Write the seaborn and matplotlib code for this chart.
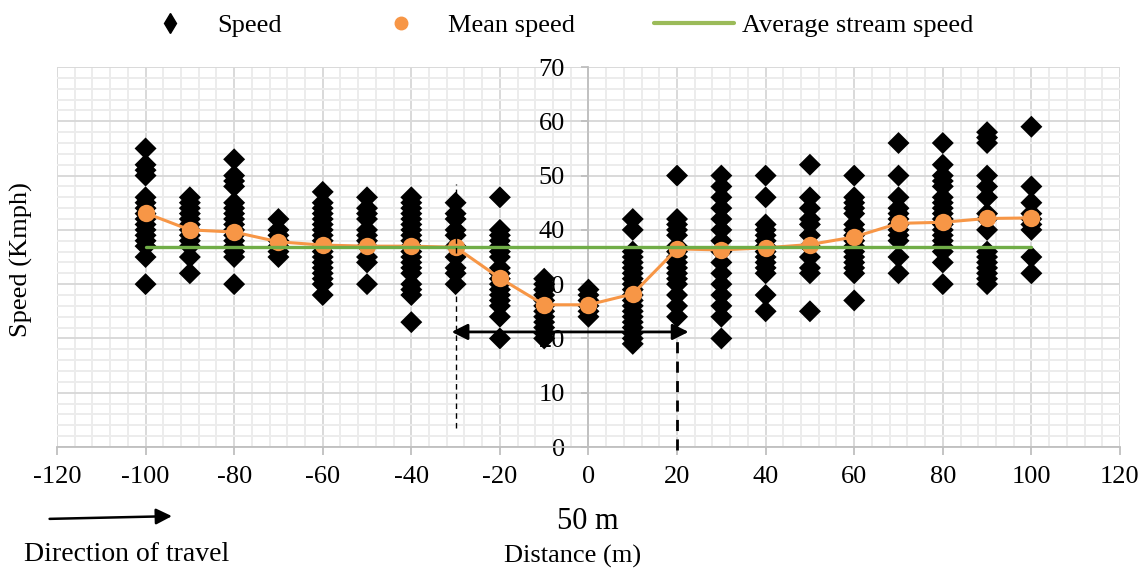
import numpy as np
import pandas as pd
import matplotlib
matplotlib.use("Agg")
import matplotlib.pyplot as plt
import seaborn as sns
from matplotlib.lines import Line2D
from matplotlib.ticker import MultipleLocator

# Data
distances = [-100, -90, -80, -70, -60, -50, -40, -30, -20, -10, 0,
             10, 20, 30, 40, 50, 60, 70, 80, 90, 100]

speed_obs = [
    [55, 52, 51, 50, 46, 45, 44, 43, 42, 41, 40, 39, 38, 37, 35, 30],
    [46, 45, 44, 43, 42, 41, 40, 39, 38, 37, 35, 32],
    [53, 50, 49, 48, 45, 44, 43, 42, 41, 40, 39, 38, 37, 36, 35, 30],
    [42, 40, 39, 38, 37, 36, 35],
    [47, 45, 44, 43, 42, 41, 40, 39, 38, 37, 36, 35, 34, 33, 32, 31, 30, 28],
    [46, 44, 43, 42, 40, 39, 38, 37, 35, 34, 30],
    [46, 45, 44, 43, 42, 41, 40, 39, 38, 37, 36, 35, 34, 33, 32, 30, 29, 28, 23],
    [45, 43, 42, 40, 39, 37, 35, 33, 32, 30],
    [46, 40, 39, 38, 37, 36, 35, 33, 32, 31, 30, 29, 28, 27, 26, 24, 20],
    [31, 30, 29, 28, 27, 26, 25, 24, 23, 22, 21, 20],
    [29, 28, 27, 26, 25, 24],
    [42, 40, 36, 35, 34, 33, 32, 31, 30, 29, 28, 27, 26, 25, 24, 23, 22, 21, 20, 19],
    [50, 42, 41, 40, 39, 37, 36, 35, 34, 33, 32, 31, 30, 28, 26, 24],
    [50, 48, 46, 44, 42, 40, 38, 36, 34, 32, 30, 28, 26, 24, 20],
    [50, 46, 41, 40, 39, 38, 37, 36, 35, 34, 33, 32, 28, 25],
    [52, 46, 44, 42, 41, 39, 37, 35, 33, 32, 25],
    [50, 46, 45, 44, 43, 41, 40, 39, 38, 37, 36, 35, 34, 33, 32, 27],
    [56, 50, 46, 44, 43, 42, 41, 40, 39, 38, 35, 32],
    [56, 52, 50, 49, 48, 46, 45, 44, 43, 42, 41, 40, 39, 38, 37, 36, 34, 30],
    [58, 57, 56, 50, 48, 46, 43, 42, 40, 36, 35, 34, 33, 32, 31, 30],
    [59, 48, 45, 43, 42, 41, 40, 35, 32],
]

mean_speed = [43.1, 40.0, 39.6, 37.8, 37.2, 37.0, 37.0, 36.8, 31.1, 26.2, 26.2,
              28.2, 36.5, 36.3, 36.7, 37.3, 38.7, 41.2, 41.4, 42.1, 42.2]

stream_speed = 36.8

# work zone markers
zone_start = -30
zone_end = 20

rows = [(d, s) for d, col in zip(distances, speed_obs) for s in col]
df = pd.DataFrame(rows, columns=["distance", "speed"])
mean_df = pd.DataFrame({"distance": distances, "mean_speed": mean_speed})
stream_df = pd.DataFrame({"distance": distances, "stream": [stream_speed] * len(distances)})

sns.set_theme(style="white")
plt.rcParams["font.family"] = ["Liberation Serif", "DejaVu Serif"]
plt.rcParams["axes.unicode_minus"] = False
plt.rcParams["text.color"] = "black"
plt.rcParams["xtick.color"] = "black"
plt.rcParams["ytick.color"] = "black"

fig = plt.figure(figsize=(11.42, 5.69), dpi=100)
ax = fig.add_axes([0.0499, 0.2144, 0.9308, 0.6678])

sns.scatterplot(data=df, x="distance", y="speed", marker="D", s=125,
                color="black", edgecolor="none", linewidth=0, ax=ax,
                zorder=3, legend=False)
sns.lineplot(data=mean_df, x="distance", y="mean_speed", color="#F79646",
             lw=2.2, marker="o", markersize=12.5, markeredgewidth=0, ax=ax,
             zorder=4)
sns.lineplot(data=stream_df, x="distance", y="stream", color="#70AD47",
             lw=2.4, ax=ax, zorder=5)

ax.set_xlim(-120, 120)
ax.set_ylim(0, 70)
ax.set_xticks(range(-120, 121, 20))
ax.set_yticks(range(0, 71, 10))
ax.xaxis.set_minor_locator(MultipleLocator(4))
ax.yaxis.set_minor_locator(MultipleLocator(2))
ax.grid(which="minor", color="#ececec", lw=1.4)
ax.grid(which="major", color="#d9d9d9", lw=1.4)
ax.set_axisbelow(True)

ax.spines["left"].set_position(("data", 0))
ax.spines["top"].set_visible(False)
ax.spines["right"].set_visible(False)
for side in ["left", "bottom"]:
    ax.spines[side].set_color("#bfbfbf")
    ax.spines[side].set_linewidth(1.3)

ax.tick_params(axis="x", which="major", bottom=True, length=6, width=1.3,
               color="#bfbfbf", labelcolor="black", labelsize=19, pad=8)
ax.tick_params(axis="y", which="major", left=True, length=5, width=1.3,
               color="#bfbfbf", labelcolor="black", labelsize=19, pad=12)
ax.tick_params(which="minor", length=0)
ax.set_xlabel("")
ax.set_ylabel("")

# dashed zone boundaries and the 50 m span
ax.plot([zone_start, zone_start], [3.5, 48.5], ls=(0, (4, 3)), color="black",
        lw=1, zorder=6)
ax.plot([zone_end, zone_end], [-0.6, 21.2], ls=(0, (4, 3)), color="black",
        lw=2, zorder=6, clip_on=False)
ax.annotate("", xy=(-30.9, 21.2), xytext=(22.6, 21.2),
            arrowprops=dict(arrowstyle="<|-|>", color="black", lw=2,
                            mutation_scale=24, shrinkA=0, shrinkB=0),
            zorder=7)

fig.text(0.515, 0.084, "50 m", ha="center", va="center", fontsize=22)
fig.text(0.501, 0.022, "Distance (m)", ha="center", va="center", fontsize=19)
fig.text(0.019, 0.543, "Speed (Kmph)", ha="center", va="center",
         rotation=90, fontsize=19)
fig.text(0.111, 0.025, "Direction of travel", ha="center", va="center",
         fontsize=20)
fig.add_artist(matplotlib.patches.FancyArrowPatch(
    (0.041, 0.088), (0.153, 0.093), transform=fig.transFigure,
    arrowstyle="-|>", mutation_scale=24, lw=1.8, color="black"))

handles = [
    Line2D([], [], marker="d", color="black", ls="none", markersize=10),
    Line2D([], [], marker="o", color="#F79646", ls="none", markersize=9),
    Line2D([], [], color="#9BBB59", lw=3),
]
fig.legend(handles, ["Speed", "Mean speed", "Average stream speed"],
           loc="center", bbox_to_anchor=(0.483, 0.956), ncol=3,
           frameon=False, fontsize=19, handlelength=3, handletextpad=0.3,
           columnspacing=3)

fig.savefig("out.png", dpi=100)
